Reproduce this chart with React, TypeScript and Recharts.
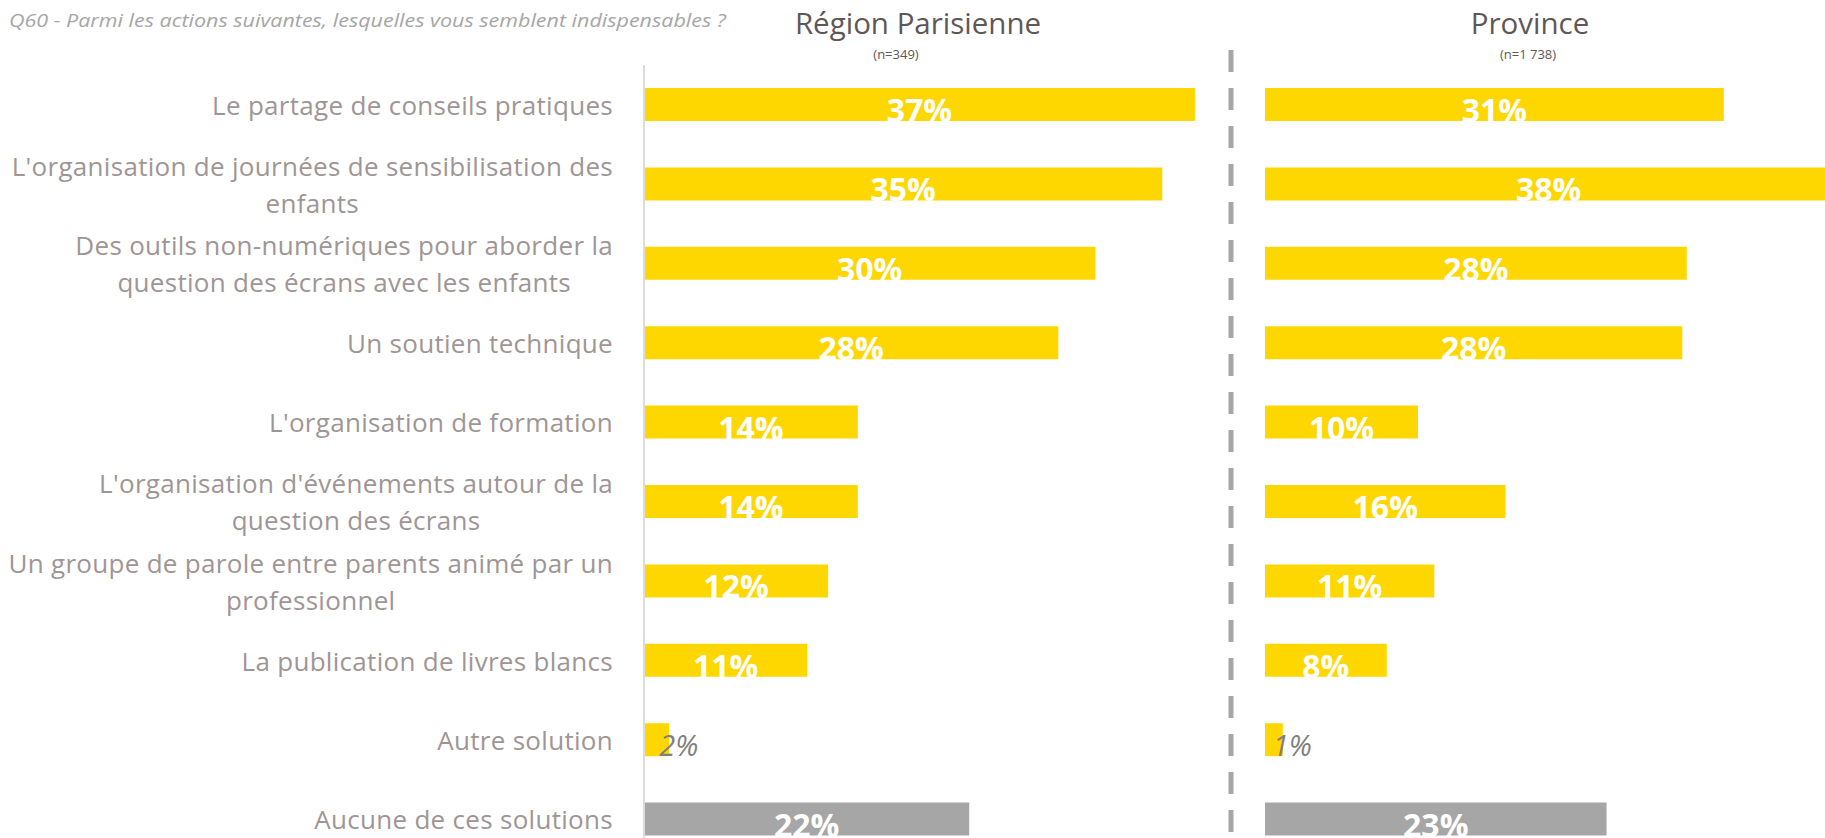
import { Bar, BarChart, Cell, LabelList, XAxis, YAxis } from "recharts";

const categories = [
  "Le partage de conseils pratiques",
  "L'organisation de journées de sensibilisation des\nenfants",
  "Des outils non-numériques pour aborder la\nquestion des écrans avec les enfants",
  "Un soutien technique",
  "L'organisation de formation",
  "L'organisation d'événements autour de la\nquestion des écrans",
  "Un groupe de parole entre parents animé par un\nprofessionnel",
  "La publication de livres blancs",
  "Autre solution",
  "Aucune de ces solutions",
];

const parisValues = [37.1, 34.9, 30.4, 27.9, 14.4, 14.4, 12.4, 11.0, 1.7, 21.9];
const provinceValues = [30.9, 38.2, 28.4, 28.1, 10.3, 16.2, 11.4, 8.2, 1.2, 23.0];

const question =
  "Q60 - Parmi les actions suivantes, lesquelles vous semblent indispensables ?";
const panelTitles = ["Région Parisienne", "Province"];
const panelSubtitles = ["(n=349)", "(n=1 738)"];

const YELLOW = "#FFD700";
const GREY = "#A6A6A6";
const LABEL_COLOR = "#A09595";
const FONT = "'Open Sans', sans-serif";
const TICK_SIZE = 26;
const TICK_SPACING = 0.3;

const parisData = categories.map((name, i) => ({ name, value: parisValues[i] }));
const provinceData = categories.map((name, i) => ({ name, value: provinceValues[i] }));

let ctx: CanvasRenderingContext2D | null = null;
function measure(text: string, font: string) {
  if (!ctx) ctx = document.createElement("canvas").getContext("2d");
  if (!ctx) return text.length * 13;
  ctx.font = font;
  return ctx.measureText(text).width + text.length * TICK_SPACING;
}

function CategoryTick(props: any) {
  const { y, payload } = props;
  const lines: string[] = String(payload.value).split("\n");
  const right = 613;
  const font = `${TICK_SIZE}px 'Open Sans'`;
  const maxW = Math.max(...lines.map((l) => measure(l, font)));
  const cx = right - maxW / 2;
  const lh = 37;
  const y0 = y - ((lines.length - 1) * lh) / 2;
  return (
    <g>
      {lines.map((l, i) => (
        <text
          key={i}
          x={lines.length > 1 ? cx : right}
          y={y0 + i * lh}
          textAnchor={lines.length > 1 ? "middle" : "end"}
          dominantBaseline="central"
          fontFamily={FONT}
          fontSize={TICK_SIZE}
          letterSpacing={TICK_SPACING}
          fill={LABEL_COLOR}
        >
          {l}
        </text>
      ))}
    </g>
  );
}

function ValueLabel(props: any) {
  const { x, y, width, height, value } = props;
  const txt = `${Math.round(Number(value))}%`;
  if (Number(value) < 5) {
    return (
      <text
        x={x + width - 10}
        y={y + height / 2 + 5}
        textAnchor="start"
        dominantBaseline="central"
        fontFamily={FONT}
        fontStyle="italic"
        fontSize={29}
        fill="#7F7F7F"
      >
        {txt}
      </text>
    );
  }
  return (
    <text
      x={x + width / 2}
      y={y + height / 2 + 5}
      textAnchor="middle"
      dominantBaseline="central"
      fontFamily={FONT}
      fontWeight={700}
      fontSize={32}
      fill="#FFFFFF"
    >
      {txt}
    </text>
  );
}

function Panel({ data, showAxis }: { data: { name: string; value: number }[]; showAxis: boolean }) {
  return (
    <BarChart
      layout="vertical"
      width={showAxis ? 1240 : 600}
      height={860}
      data={data}
      margin={{ top: 65, right: showAxis ? 2 : 6, left: 0, bottom: 1 }}
    >
      <XAxis type="number" domain={[0, 40]} hide />
      {showAxis ? (
        <YAxis
          type="category"
          dataKey="name"
          width={644}
          axisLine={{ stroke: "#DCDCDC", strokeWidth: 2 }}
          tickLine={false}
          tick={<CategoryTick />}
          interval={0}
        />
      ) : (
        <YAxis type="category" dataKey="name" hide width={0} />
      )}
      <Bar dataKey="value" barSize={33} isAnimationActive={false}>
        {data.map((_, i) => (
          <Cell key={i} fill={i === data.length - 1 ? GREY : YELLOW} />
        ))}
        <LabelList dataKey="value" content={<ValueLabel />} />
      </Bar>
    </BarChart>
  );
}

export default function App() {
  return (
    <div
      style={{
        position: "absolute",
        left: 0,
        top: 0,
        width: 1825,
        height: 838,
        overflow: "hidden",
        background: "#fff",
      }}
    >
      <div style={{ position: "absolute", left: 0, top: 0 }}>
        <Panel data={parisData} showAxis />
      </div>
      <div style={{ position: "absolute", left: 1265, top: 0 }}>
        <Panel data={provinceData} showAxis={false} />
      </div>
      <svg
        width={1825}
        height={838}
        style={{ position: "absolute", left: 0, top: 0, pointerEvents: "none" }}
      >
        <text
          x={9}
          y={27}
          fontFamily={FONT}
          fontStyle="italic"
          fontSize={19}
          fill="#A6A6A6"
          textLength={717}
          lengthAdjust="spacingAndGlyphs"
        >
          {question}
        </text>
        <text x={918} y={34} textAnchor="middle" fontFamily={FONT} fontSize={29.5} fill="#5F5757">
          {panelTitles[0]}
        </text>
        <text x={896} y={59} textAnchor="middle" fontFamily={FONT} fontSize={13} fill="#5F5757">
          {panelSubtitles[0]}
        </text>
        <text x={1530} y={34} textAnchor="middle" fontFamily={FONT} fontSize={29.5} fill="#5F5757">
          {panelTitles[1]}
        </text>
        <text x={1528} y={59} textAnchor="middle" fontFamily={FONT} fontSize={13} fill="#5F5757">
          {panelSubtitles[1]}
        </text>
        <line
          x1={1231}
          y1={50}
          x2={1231}
          y2={838}
          stroke={GREY}
          strokeWidth={5}
          strokeDasharray="22 16"
        />
      </svg>
    </div>
  );
}
